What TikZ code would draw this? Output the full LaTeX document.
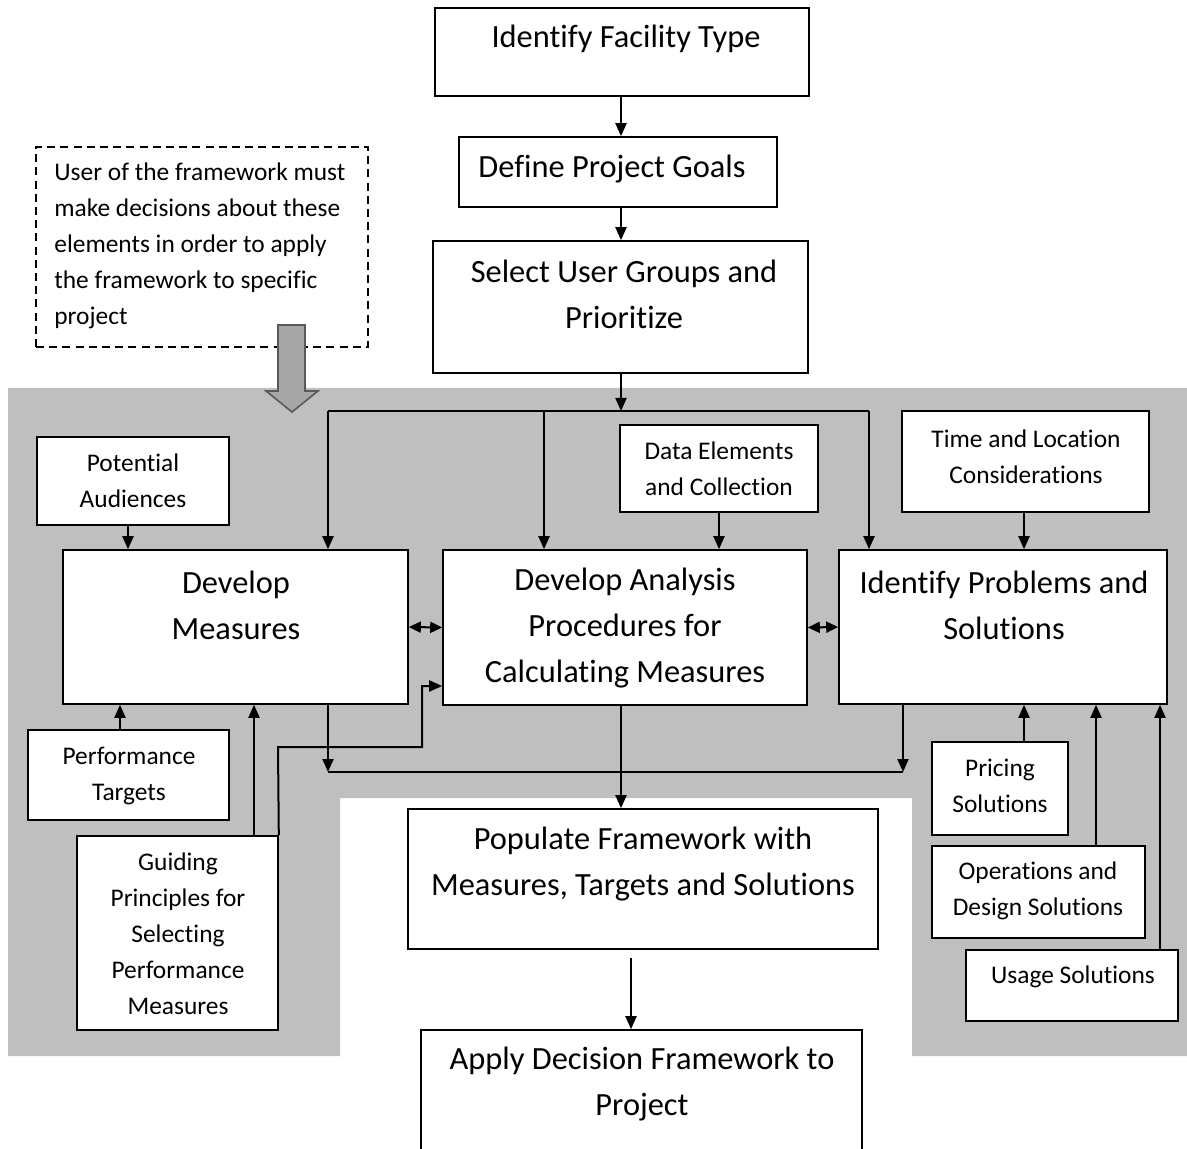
\documentclass[tikz,border=0pt]{standalone}
\usepackage{fontspec}
\setmainfont{Carlito}[Ligatures=NoCommon]
\usetikzlibrary{arrows.meta,fit}
\definecolor{panel}{RGB}{191,191,191}
\definecolor{blockfill}{RGB}{166,166,166}
\definecolor{blockedge}{RGB}{89,89,89}
\begin{document}
\begin{tikzpicture}[x=0.5pt,y=-0.5pt,
  box/.style={draw=black,line width=0.8pt,fill=white,inner sep=0pt},
  notebox/.style={draw=black,line width=1.3pt,dash pattern=on 4pt off 2.6pt,inner sep=0pt},
  big/.style={font=\fontsize{16.2}{23}\selectfont,align=center,inner sep=0pt},
  small/.style={font=\fontsize{12.7}{18}\selectfont,align=center,inner sep=0pt},
  conn/.style={line width=1pt,-{Triangle[length=6.5pt,width=5.5pt]}},
  both/.style={line width=1pt,{Triangle[length=6pt,width=5.5pt]}-{Triangle[length=6pt,width=5.5pt]}},
  wire/.style={line width=1pt}]
\useasboundingbox (0,0) rectangle (1187,1149);
\clip (0,0) rectangle (1187,1149);

% grey panel with the white notch under the analysis stage
\fill[panel] (8,388) -- (1187,388) -- (1187,1056) -- (912,1056) -- (912,798)
  -- (340,798) -- (340,1056) -- (8,1056) -- cycle;

% boxes
\node[box,fit={(435,8) (809,96)}] (facility) {};
\node[box,fit={(459,137) (777,207)}] (goals) {};
\node[box,fit={(433,241) (808,373)}] (select) {};
\node[notebox,fit={(36,147) (368,347)}] (note) {};
\node[box,fit={(37,437) (229,525)}] (audiences) {};
\node[box,fit={(63,550) (408,704)}] (measures) {};
\node[box,fit={(443,550) (807,705)}] (analysis) {};
\node[box,fit={(839,550) (1167,704)}] (problems) {};
\node[box,fit={(620,425) (818,512)}] (data) {};
\node[box,fit={(902,411) (1149,512)}] (timeloc) {};
\node[box,fit={(28,730) (229,820)}] (targets) {};
\node[box,fit={(77,836) (278,1030)}] (guiding) {};
\node[box,fit={(932,742) (1068,835)}] (pricing) {};
\node[box,fit={(932,846) (1145,938)}] (operations) {};
\node[box,fit={(966,950) (1178,1021)}] (usage) {};
\node[box,fit={(408,809) (878,949)}] (populate) {};
\node[box,fit={(421,1030) (862,1175)}] (apply) {};

% texts
\node[big] (tfacility) at (626,39) {Identify Facility Type};
\node[big] (tgoals) at (612,169) {Define Project Goals};
\node[big] (tselect) at (624,294) {Select User Groups and\\Prioritize};
\node[small,align=left,anchor=west] (tnote) at (54,246) {User of the framework must\\make decisions about these\\elements in order to apply\\the framework to specific\\project};
\node[small] (taudiences) at (133,481) {Potential\\Audiences};
\node[big] (tmeasures) at (236,605) {Develop\\Measures};
\node[big] (tanalysis) at (625,628) {Develop Analysis\\Procedures for\\Calculating Measures};
\node[big] (tproblems) at (1004,605) {Identify Problems and\\Solutions};
\node[small] (tdata) at (719,469) {Data Elements\\and Collection};
\node[small] (ttimeloc) at (1026,457) {Time and Location\\Considerations};
\node[small] (ttargets) at (129,776) {Performance\\Targets};
\node[small] (tguiding) at (178,934) {Guiding\\Principles for\\Selecting\\Performance\\Measures};
\node[small] (tpricing) at (1000,786) {Pricing\\Solutions};
\node[small] (toperations) at (1038,891) {Operations and\\Design Solutions};
\node[small] (tusage) at (1073,977) {Usage Solutions};
\node[big] (tpopulate) at (643,864) {Populate Framework with\\Measures, Targets and Solutions};
\node[big] (tapply) at (642,1084) {Apply Decision Framework to\\Project};

% junction points
\coordinate (busC) at (621,411);
\coordinate (busL) at (328,411);
\coordinate (busM) at (544,411);
\coordinate (busR) at (869,411);
\coordinate (lowL) at (328,772);
\coordinate (lowR) at (903,772);
\coordinate (g1) at (278,747);
\coordinate (g2) at (422,686);
\coordinate (xAud) at (128,0);
\coordinate (xTar) at (120,0);
\coordinate (xGui) at (254,0);
\coordinate (xData) at (719,0);
\coordinate (xTime) at (1024,0);
\coordinate (xOps) at (1096,0);
\coordinate (xUse) at (1160,0);
\coordinate (popOut) at (631,958);

% top chain
\draw[conn] (facility.south -| busC) -- (goals.north -| busC);
\draw[conn] (goals.south -| busC) -- (select.north -| busC);
\draw[conn] (select.south -| busC) -- (busC);
\draw[wire] (busL) -- (busR);
\draw[conn] (busL) -- (measures.north -| busL);
\draw[conn] (busM) -- (analysis.north -| busM);
\draw[conn] (busR) -- (problems.north -| busR);

% inputs from above
\draw[conn] (audiences.south -| xAud) -- (measures.north -| xAud);
\draw[conn] (data.south -| xData) -- (analysis.north -| xData);
\draw[conn] (timeloc.south -| xTime) -- (problems.north -| xTime);

% links between the three stages
\draw[both] (measures.east) -- (analysis.west);
\draw[both] (analysis.east) -- (problems.west);

% inputs from below
\draw[conn] (targets.north -| xTar) -- (measures.south -| xTar);
\draw[conn] (guiding.north -| xGui) -- (measures.south -| xGui);
\draw[conn] (guiding.north east) -- (g1) -| (g2) -- (g2 -| analysis.west);
\draw[conn] (pricing.north -| xTime) -- (problems.south -| xTime);
\draw[conn] (operations.north -| xOps) -- (problems.south -| xOps);
\draw[conn] (usage.north -| xUse) -- (problems.south -| xUse);

% outputs gathered to the framework
\draw[conn] (measures.south -| lowL) -- (lowL);
\draw[conn] (problems.south -| lowR) -- (lowR);
\draw[wire] (lowL) -- (lowR);
\draw[conn] (analysis.south -| busC) -- (populate.north -| busC);
\draw[conn] (popOut) -- (apply.north -| popOut);

% block arrow from the note into the panel
\draw[fill=blockfill,draw=blockedge,line width=0.8pt]
  (278,325) -- (305,325) -- (305,391) -- (318,391) -- (292,412)
  -- (266,391) -- (278,391) -- cycle;
\end{tikzpicture}
\end{document}
